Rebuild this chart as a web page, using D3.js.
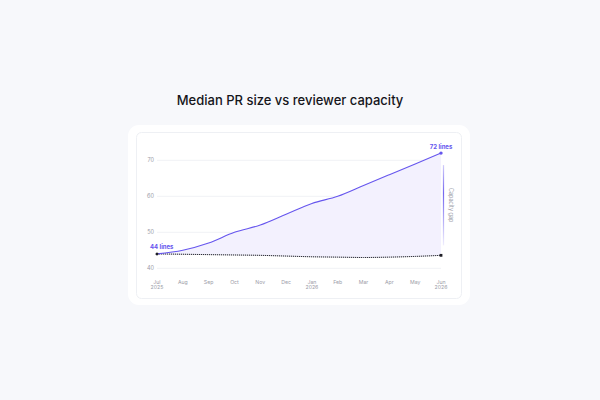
<!DOCTYPE html>
<html>
<head>
    <title>Median PR size vs reviewer capacity</title>
    <script src="https://d3js.org/d3.v7.min.js"></script>
    <style>
        body { margin: 0; background: #f7f8fb; font-family: Inter, "Noto Sans", sans-serif; }
        svg { display: block; }
    </style>
</head>
<body>
    <div id="chart"></div>
    <script>
        // data
        const months = ["Jul", "Aug", "Sep", "Oct", "Nov", "Dec", "Jan", "Feb", "Mar", "Apr", "May", "Jun"];
        const years = ["2025", "", "", "", "", "", "2026", "", "", "", "", "2026"];
        const prSize = [44, 45, 47, 50, 52, 55, 58, 60, 63, 66, 69, 72];
        const capacity = [44, 43.9, 43.8, 43.7, 43.6, 43.4, 43.2, 43.1, 43.0, 43.1, 43.3, 43.6];
        const yTicks = [40, 50, 60, 70];

        const width = 600, height = 400;
        const purple = "#6656ee";

        const svg = d3.select("#chart").append("svg")
            .attr("width", width)
            .attr("height", height);

        // title
        svg.append("text")
            .attr("x", 290).attr("y", 104.5)
            .attr("text-anchor", "middle")
            .attr("font-size", 13).attr("font-weight", 500)
            .attr("fill", "#15151a")
            .text("Median PR size vs reviewer capacity");

        // outer card + inner panel
        svg.append("rect")
            .attr("x", 128).attr("y", 125).attr("width", 342).attr("height", 180)
            .attr("rx", 11).attr("fill", "#fff");
        svg.append("rect")
            .attr("x", 136.5).attr("y", 132.5).attr("width", 325).attr("height", 166)
            .attr("rx", 5).attr("fill", "#fff")
            .attr("stroke", "#eef0f4").attr("stroke-width", 1);

        const x = d3.scalePoint().domain(months).range([157, 441]);
        const y = d3.scaleLinear().domain([40, 70]).range([268.3, 160.3]);

        const pts = months.map((m, i) => ({ m, size: prSize[i], cap: capacity[i], yr: years[i] }));

        // grid + y labels
        const grid = svg.append("g");
        grid.selectAll("line").data(yTicks).enter().append("line")
            .attr("x1", x("Jul")).attr("x2", x("Jun"))
            .attr("y1", d => y(d)).attr("y2", d => y(d))
            .attr("stroke", "#f1f2f5").attr("stroke-width", 1);
        grid.selectAll("text").data(yTicks).enter().append("text")
            .attr("x", 154).attr("y", d => y(d) + 2)
            .attr("text-anchor", "end")
            .attr("font-size", 5.5).attr("fill", "#9b9ca8")
            .text(d => d);

        // x labels
        const xl = svg.append("g").selectAll("text").data(pts).enter().append("text")
            .attr("x", d => x(d.m)).attr("y", 283.5)
            .attr("text-anchor", "middle")
            .attr("font-size", 5.2).attr("fill", "#9b9ca8");
        xl.append("tspan").text(d => d.m);
        xl.filter(d => d.yr).append("tspan")
            .attr("x", d => x(d.m)).attr("dy", 5.8)
            .text(d => d.yr);

        // gap area
        const area = d3.area()
            .x(d => x(d.m))
            .y0(d => y(d.cap))
            .y1(d => y(d.size))
            .curve(d3.curveMonotoneX);
        svg.append("path").datum(pts)
            .attr("d", area)
            .attr("fill", "#f3f1fe");

        // capacity line (dotted)
        const capLine = d3.line().x(d => x(d.m)).y(d => y(d.cap)).curve(d3.curveMonotoneX);
        svg.append("path").datum(pts)
            .attr("d", capLine)
            .attr("fill", "none").attr("stroke", "#c9cad2").attr("stroke-width", 1);
        svg.append("path").datum(pts)
            .attr("d", capLine)
            .attr("fill", "none").attr("stroke", "#2a2a33").attr("stroke-width", 1)
            .attr("stroke-dasharray", "1,1");

        // PR size line
        svg.append("path").datum(pts)
            .attr("d", d3.line().x(d => x(d.m)).y(d => y(d.size)).curve(d3.curveMonotoneX))
            .attr("fill", "none").attr("stroke", purple).attr("stroke-width", 1.1);

        const first = pts[0], last = pts[pts.length - 1];

        // end points
        svg.append("circle").attr("cx", x(last.m)).attr("cy", y(last.size)).attr("r", 1.7).attr("fill", purple);
        svg.append("circle").attr("cx", x(first.m)).attr("cy", y(first.cap)).attr("r", 1.5).attr("fill", "#1f1f27");
        svg.append("rect").attr("x", x(last.m) - 1.4).attr("y", y(last.cap) - 1.4)
            .attr("width", 2.8).attr("height", 2.8).attr("fill", "#1f1f27");

        // value labels
        svg.append("text")
            .attr("x", x(first.m) - 7).attr("y", y(first.size) - 4.5)
            .attr("font-size", 6).attr("font-weight", 700).attr("fill", purple)
            .text(first.size + " lines");
        svg.append("text")
            .attr("x", x(last.m)).attr("y", y(last.size) - 4.5)
            .attr("text-anchor", "middle")
            .attr("font-size", 6).attr("font-weight", 700).attr("fill", purple)
            .text(last.size + " lines");

        // capacity gap bracket
        const grad = svg.append("defs").append("linearGradient")
            .attr("id", "gapGrad").attr("x1", 0).attr("x2", 0).attr("y1", 0).attr("y2", 1);
        grad.append("stop").attr("offset", "0%").attr("stop-color", purple).attr("stop-opacity", 0.3);
        grad.append("stop").attr("offset", "35%").attr("stop-color", purple).attr("stop-opacity", 0.9);
        grad.append("stop").attr("offset", "100%").attr("stop-color", purple).attr("stop-opacity", 0.1);

        const gx = x(last.m) + 2.5;
        const gTop = y(last.size) + 12, gBot = y(last.cap) - 10;
        svg.append("rect")
            .attr("x", gx - 0.6).attr("y", gTop).attr("width", 1.2).attr("height", gBot - gTop)
            .attr("fill", "url(#gapGrad)");
        svg.append("text")
            .attr("transform", `translate(${gx + 5},${(gTop + gBot) / 2}) rotate(90)`)
            .attr("text-anchor", "middle")
            .attr("font-size", 5.5).attr("fill", "#9b9ca8")
            .text("Capacity gap");
    </script>
</body>
</html>
